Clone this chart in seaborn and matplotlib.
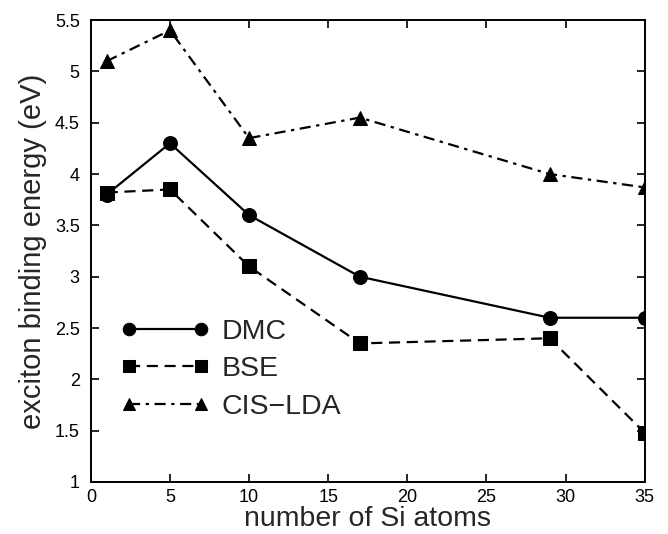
import matplotlib
matplotlib.use('Agg')
import matplotlib.pyplot as plt
import seaborn as sns
import pandas as pd

# Data
si_atoms = [1, 5, 10, 17, 29, 35]
dmc = [3.8, 4.3, 3.6, 3.0, 2.6, 2.6]
bse = [3.82, 3.85, 3.1, 2.35, 2.4, 1.48]
cis_lda = [5.1, 5.4, 4.35, 4.55, 4.0, 3.87]
methods = ['DMC', 'BSE', 'CIS\u2212LDA']

df = pd.DataFrame({
    'n': si_atoms * 3,
    'energy': dmc + bse + cis_lda,
    'method': [m for m in methods for _ in si_atoms],
})

sns.set_style('ticks')
plt.rcParams['font.family'] = ['Liberation Sans', 'DejaVu Sans']

fig = plt.figure(figsize=(6.68, 5.34), dpi=100)
ax = fig.add_axes([0.136, 0.0974, 0.829, 0.865])

sns.lineplot(
    data=df, x='n', y='energy', style='method', style_order=methods,
    markers={'DMC': 'o', 'BSE': 's', 'CIS\u2212LDA': '^'},
    dashes={'DMC': '', 'BSE': (5, 3), 'CIS\u2212LDA': (5, 2.5, 1.5, 2.5)},
    color='black', markersize=10, markeredgecolor='black', linewidth=1.6,
    ax=ax,
)

ax.set_xlim(0, 35)
ax.set_ylim(1, 5.5)
ax.set_xticks(range(0, 36, 5))
ax.set_yticks([1, 1.5, 2, 2.5, 3, 3.5, 4, 4.5, 5, 5.5])
ax.set_yticklabels(['1', '1.5', '2', '2.5', '3', '3.5', '4', '4.5', '5', '5.5'])
ax.tick_params(direction='in', top=True, right=True, length=6, width=1.2,
               labelsize=13, colors='black')
ax.tick_params(axis='x', pad=5)
ax.tick_params(axis='y', pad=8)
for s in ax.spines.values():
    s.set_linewidth(1.4)
    s.set_color('black')
    s.set_visible(True)

ax.set_xlabel('number of Si atoms', fontsize=20.5, labelpad=0)
ax.set_ylabel('exciton binding energy (eV)', fontsize=21, labelpad=6)

leg = ax.legend(loc='center left', bbox_to_anchor=(0.008, 0.244), frameon=False,
                fontsize=20.5, handlelength=3.12, numpoints=2,
                labelspacing=0.4, handletextpad=0.4)
for h in leg.legend_handles:
    h.set_color('black')
    h.set_markersize(9)

fig.savefig('out.png', dpi=100)
